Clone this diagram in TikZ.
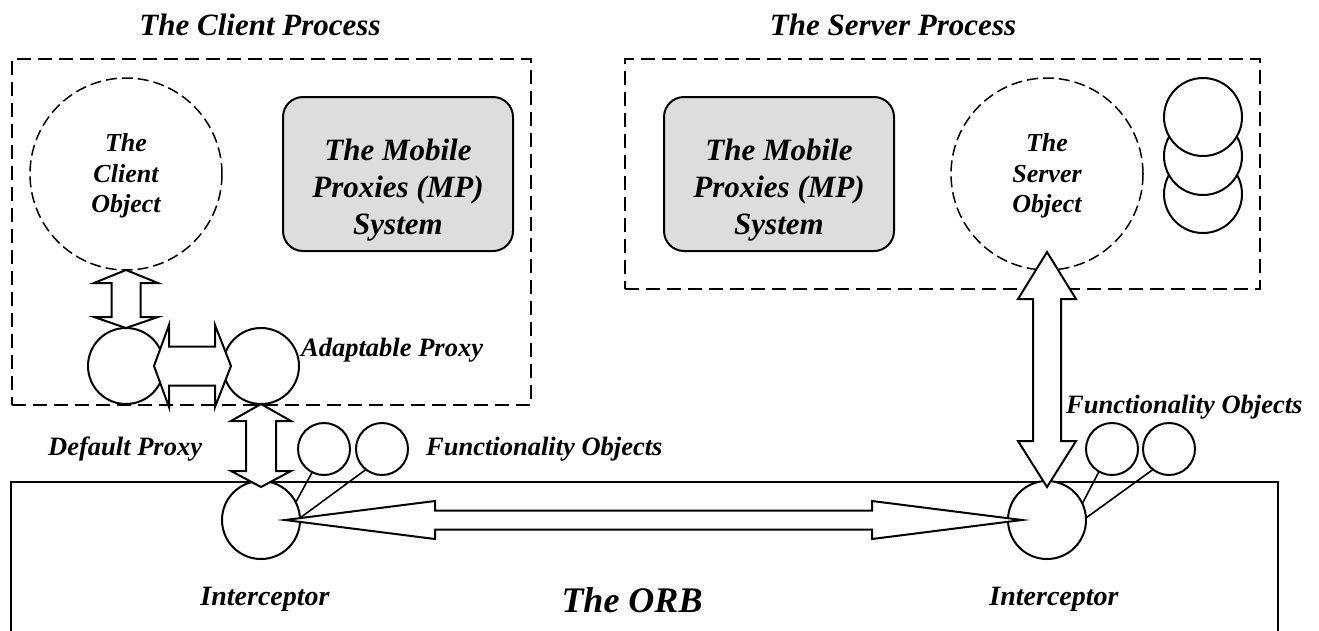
\documentclass[tikz,border=0pt]{standalone}
\usepackage{fontspec}
\setmainfont{Liberation Serif}
\usetikzlibrary{calc}

\definecolor{mpgray}{RGB}{221,221,221}

% vertical double block arrow: top tip, bottom tip, shaft half width,
% head half width, top head length, bottom head length
\newcommand\blockV[6]{%
  \draw[blockarrow] let \p1=(#1), \p2=(#2) in
    (\x1,\y1) -- (\x1+#4,\y1-#5) -- (\x1+#3,\y1-#5) -- (\x1+#3,\y2+#6)
    -- (\x1+#4,\y2+#6) -- (\x1,\y2) -- (\x1-#4,\y2+#6) -- (\x1-#3,\y2+#6)
    -- (\x1-#3,\y1-#5) -- (\x1-#4,\y1-#5) -- cycle;}

% horizontal double block arrow: left tip, right tip, shaft half height,
% head half height, left head length, right head length
\newcommand\blockH[6]{%
  \draw[blockarrow] let \p1=(#1), \p2=(#2) in
    (\x1,\y1) -- (\x1+#5,\y1+#4) -- (\x1+#5,\y1+#3) -- (\x2-#6,\y1+#3)
    -- (\x2-#6,\y1+#4) -- (\x2,\y1) -- (\x2-#6,\y1-#4) -- (\x2-#6,\y1-#3)
    -- (\x1+#5,\y1-#3) -- (\x1+#5,\y1-#4) -- cycle;}

\tikzset{
  procbox/.style={draw, dash pattern=on 14pt off 7pt, line width=2.5pt,
    inner sep=0, outer sep=0},
  objcircle/.style={circle, draw, dash pattern=on 11pt off 5pt,
    line width=1.5pt, minimum size=192pt, inner sep=0, outer sep=0},
  mpbox/.style={draw, line width=2pt, rounded corners=20pt, fill=mpgray,
    minimum width=230pt, minimum height=154pt, inner sep=0, outer sep=0},
  ball/.style={circle, draw, line width=2pt, fill=white, inner sep=0,
    outer sep=0},
  blockarrow/.style={draw, line width=2pt, fill=white, line join=miter},
  link/.style={line width=1.6pt},
  orbline/.style={line width=1.6pt},
  titletext/.style={font=\fontsize{31}{37}\selectfont\bfseries\itshape},
  mptext/.style={font=\fontsize{31}{37}\selectfont\bfseries\itshape,
    align=center, inner sep=0},
  objtext/.style={font=\fontsize{26}{30.5}\selectfont\bfseries\itshape,
    align=center, inner sep=0},
  lbl/.style={font=\fontsize{26.5}{30}\selectfont\bfseries\itshape,
    inner sep=0},
  icptext/.style={font=\fontsize{28}{32}\selectfont\bfseries\itshape,
    inner sep=0},
  orbtext/.style={font=\fontsize{36}{42}\selectfont\bfseries\itshape,
    inner sep=0},
}

\begin{document}
\begin{tikzpicture}[x=1pt,y=-1pt]
\useasboundingbox (0,0) rectangle (1319,630);

% process titles
\node[titletext, anchor=base] (ctitle) at (260,35.5) {The Client Process};
\node[titletext, anchor=base] (stitle) at (893,35.5) {The Server Process};

% process boundaries
\node[procbox, minimum width=519pt, minimum height=346pt] (cproc) at (271.5,232) {};
\node[procbox, minimum width=635pt, minimum height=230pt] (sproc) at (942.5,174) {};

% Mobile Proxies system boxes
\node[mpbox] (cmp) at (398,174) {};
\node[mptext] (cmptext) at (398,190) {The Mobile\\Proxies (MP)\\System};
\node[mpbox] (smp) at (779,174) {};
\node[mptext] (smptext) at (779,190) {The Mobile\\Proxies (MP)\\System};

% client and server objects
\node[objcircle] (cobj) at (126,174) {};
\node[objtext] (cobjtext) at (126,176) {The\\Client\\Object};
\node[objcircle] (sobj) at (1047,174) {};
\node[objtext] (sobjtext) at (1047,176) {The\\Server\\Object};

% stack of server-side objects
\node[ball, minimum size=78pt] (st3) at (1203,194) {};
\node[ball, minimum size=78pt] (st2) at (1203,156) {};
\node[ball, minimum size=78pt] (st1) at (1203,117) {};

% the ORB
\coordinate (orbbl) at (11,632);
\coordinate (orbtl) at (11,482);
\coordinate (orbtr) at (1278,482);
\coordinate (orbbr) at (1278,632);
\draw[orbline] (orbbl) -- (orbtl) -- (orbtr) -- (orbbr);

% proxies, interceptors and functionality objects
\node[ball, minimum size=76pt] (dp) at (126,366) {};
\node[ball, minimum size=76pt] (ap) at (261,366) {};
\node[ball, minimum size=78pt] (ci) at (261,520) {};
\node[ball, minimum size=78pt] (si) at (1047,520) {};
\node[ball, minimum size=52pt] (f1) at (324,449) {};
\node[ball, minimum size=52pt] (f2) at (382,449) {};
\node[ball, minimum size=52pt] (f3) at (1112,449) {};
\node[ball, minimum size=52pt] (f4) at (1169,449) {};

% block arrows
\blockV{cobj.south}{dp.north}{14.5pt}{32pt}{13pt}{11pt}
\blockH{$(dp.east)+(-10,0)$}{$(ap.west)+(8,0)$}{19.5pt}{41pt}{15pt}{16pt}
\blockV{ap.south}{$(ci.north)+(0,6)$}{15pt}{30pt}{17pt}{16pt}
\blockH{$(ci.center)+(24,0)$}{$(si.center)+(-25,0)$}{9.5pt}{19pt}{150pt}{150pt}
\blockV{$(sobj.south)+(0,-18)$}{$(si.north)+(0,6)$}{14pt}{29pt}{47pt}{46pt}

% functionality objects attached to interceptors
\draw[link] (f1.243) -- (ci.27);
\draw[link] (f2.232) -- (ci.3);
\draw[link] (f3.240) -- (si.25);
\draw[link] (f4.232) -- (si.3);

% labels
\node[lbl, anchor=base west] (aplbl) at (301,356) {Adaptable Proxy};
\node[lbl, anchor=base west] (dplbl) at (48,455) {Default Proxy};
\node[lbl, anchor=base west] (cflbl) at (426,455) {Functionality Objects};
\node[lbl, anchor=base west] (sflbl) at (1066,413) {Functionality Objects};
\node[icptext, anchor=base] (cilbl) at (265,605) {Interceptor};
\node[icptext, anchor=base] (silbl) at (1054,605) {Interceptor};
\node[orbtext, anchor=base] (orblbl) at (632,612) {The ORB};
\end{tikzpicture}
\end{document}
